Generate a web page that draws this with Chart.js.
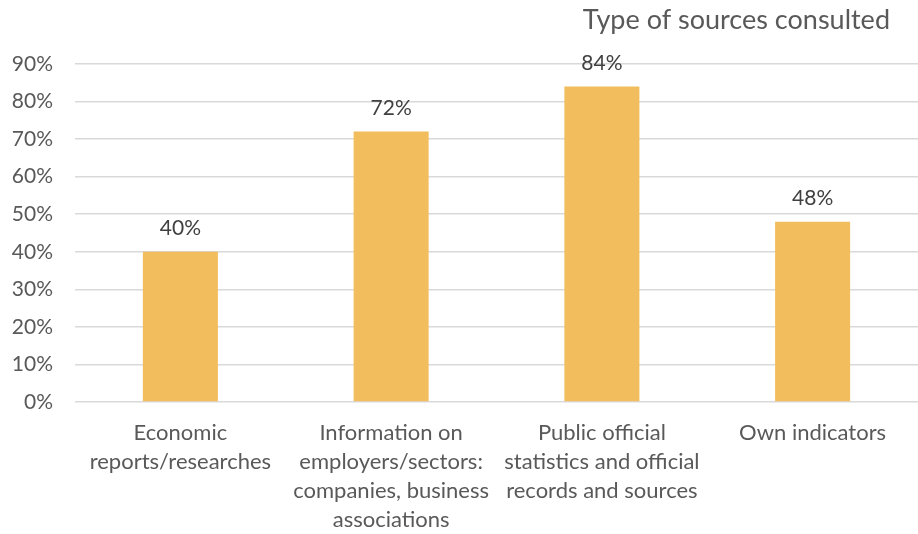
<!DOCTYPE html>
<html>
<head>
<meta charset="utf-8">
<script src="https://cdn.jsdelivr.net/npm/chart.js@4/dist/chart.umd.min.js"></script>
<style>
  html, body { margin: 0; padding: 0; background: #ffffff; }
  #wrap { width: 918px; height: 534px; }
</style>
</head>
<body>
<div id="wrap"><canvas id="sourcesChart" width="918" height="534"></canvas></div>
<script>
var categories = [
    ['Economic', 'reports/researches'],
    ['Information on', 'employers/sectors:', 'companies, business', 'associations'],
    ['Public official', 'statistics and official', 'records and sources'],
    ['Own indicators']
];
var shares = [40, 72, 84, 48];
var yTicks = [0, 10, 20, 30, 40, 50, 60, 70, 80, 90];
var chartTitle = 'Type of sources consulted';

var FONT = 'Lato, "Open Sans", sans-serif';

// value labels over each bar
var barLabels = {
    id: 'barLabels',
    afterDatasetsDraw: function (chart) {
        var ctx = chart.ctx;
        var meta = chart.getDatasetMeta(0);
        ctx.save();
        ctx.font = '21px ' + FONT;
        ctx.fillStyle = '#404040';
        ctx.textAlign = 'center';
        ctx.textBaseline = 'alphabetic';
        meta.data.forEach(function (bar, i) {
            ctx.fillText(shares[i] + '%', bar.x, bar.y - 17);
        });
        ctx.restore();
    }
};

// title sits top right, above the plot
var cornerTitle = {
    id: 'cornerTitle',
    afterDraw: function (chart) {
        var ctx = chart.ctx;
        ctx.save();
        ctx.font = '27px ' + FONT;
        ctx.fillStyle = '#595959';
        ctx.textAlign = 'right';
        ctx.textBaseline = 'alphabetic';
        ctx.fillText(chartTitle, 890, 29);
        ctx.restore();
    }
};

new Chart(document.getElementById('sourcesChart').getContext('2d'), {
    type: 'bar',
    data: {
        labels: categories,
        datasets: [{
            data: shares,
            backgroundColor: '#F2BD5C',
            borderWidth: 0,
            categoryPercentage: 1,
            barPercentage: 0.356
        }]
    },
    options: {
        responsive: false,
        animation: false,
        layout: { padding: { top: 64, right: 0, left: 0, bottom: 0 } },
        plugins: {
            legend: { display: false },
            tooltip: { enabled: false },
            title: { display: false }
        },
        scales: {
            x: {
                grid: { display: false },
                border: { display: false },
                ticks: {
                    color: '#595959',
                    font: { family: FONT, size: 22, lineHeight: 1.32 },
                    padding: 8,
                    maxRotation: 0,
                    autoSkip: false
                },
                afterFit: function (scale) { scale.height = 132; }
            },
            y: {
                min: 0,
                max: 90,
                afterBuildTicks: function (scale) {
                    scale.ticks = yTicks.map(function (v) { return { value: v }; });
                },
                grid: { color: '#d9d9d9', lineWidth: 1.5, drawTicks: false },
                border: { display: false },
                ticks: {
                    color: '#595959',
                    font: { family: FONT, size: 21 },
                    padding: 22,
                    callback: function (v) { return v + '%'; }
                },
                afterFit: function (scale) { scale.width = 75; }
            }
        }
    },
    plugins: [barLabels, cornerTitle]
});
</script>
</body>
</html>
